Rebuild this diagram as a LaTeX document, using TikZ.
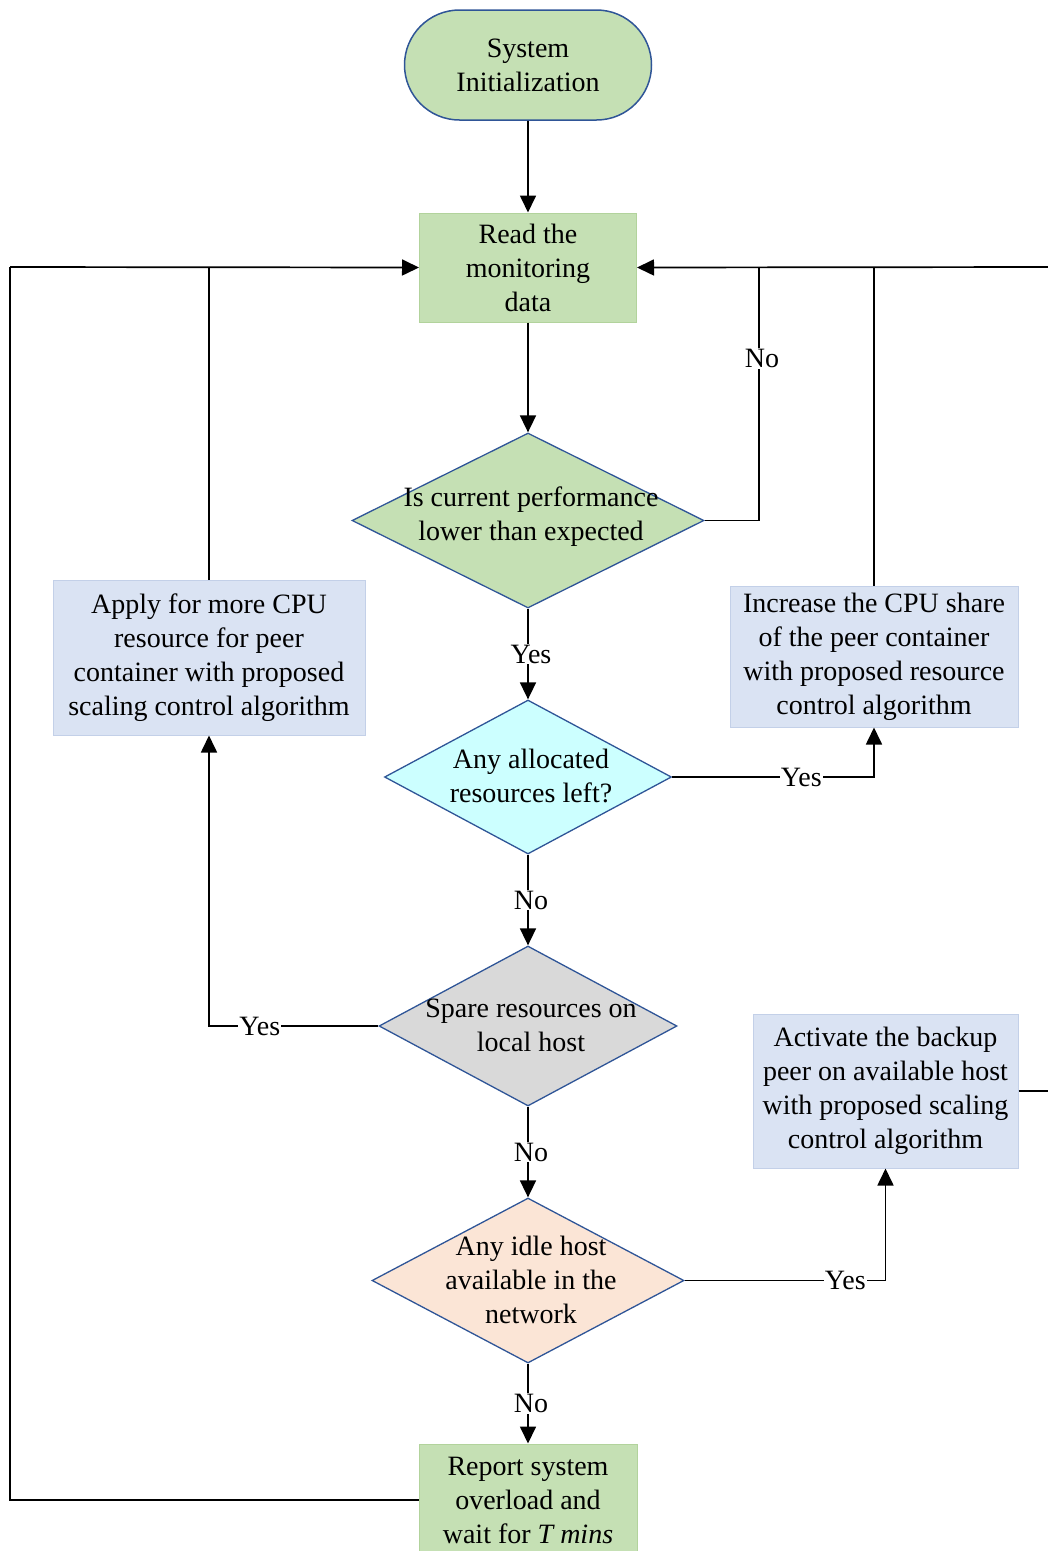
\documentclass[tikz,border=0pt]{standalone}
\usepackage{fontspec}
\setmainfont{Liberation Serif}
\usetikzlibrary{shapes.geometric,shapes.misc,arrows.meta}

\definecolor{leaf}{HTML}{C5E0B4}
\definecolor{leafline}{HTML}{B2D39C}
\definecolor{navy}{HTML}{2F5597}
\definecolor{sky}{HTML}{DAE3F3}
\definecolor{skyline}{HTML}{C3D0E8}
\definecolor{aqua}{HTML}{CCFFFF}
\definecolor{stone}{HTML}{D9D9D9}
\definecolor{peach}{HTML}{FBE5D6}

\tikzset{
  txt/.style={font=\fontsize{28}{34}\selectfont, align=center, inner sep=0pt},
  terminal/.style={rounded rectangle, draw=navy, line width=1.5pt, fill=leaf,
    minimum width=247pt, minimum height=110pt, txt},
  greenbox/.style={rectangle, draw=leafline, line width=1pt, fill=leaf, txt},
  bluebox/.style={rectangle, draw=skyline, line width=1pt, fill=sky, txt},
  decision/.style={diamond, draw=navy, line width=1.3pt, inner sep=0pt},
  wire/.style={line width=1.7pt, draw=black},
  arrow/.style={wire, -{Triangle[length=17pt,width=16pt]}},
  lbl/.style={fill=white, inner sep=1pt, font=\fontsize{28}{34}\selectfont}
}

\begin{document}
\begin{tikzpicture}[x=1pt, y=-1pt]
\useasboundingbox (0,0) rectangle (1048,1551);

% process blocks
\node[terminal] (init) at (528,65) {System\\Initialization};
\node[greenbox, minimum width=217pt, minimum height=109pt] (read) at (528,267.5) {Read the\\monitoring\\data};

\node[decision, fill=leaf, minimum width=352pt, minimum height=175pt] (d1) at (528,520.5) {};
\node[txt] (d1t) at (531,517) {Is current performance\\lower than expected};

\node[decision, fill=aqua, minimum width=287pt, minimum height=154pt] (d2) at (528,777) {};
\node[txt] (d2t) at (531,776) {Any allocated\\resources left?};

\node[decision, fill=stone, minimum width=298pt, minimum height=160pt] (d3) at (528,1026) {};
\node[txt] (d3t) at (531,1025) {Spare resources on\\local host};

\node[decision, fill=peach, minimum width=312pt, minimum height=165pt] (d4) at (528,1280.5) {};
\node[txt] (d4t) at (531,1280) {Any idle host\\available in the\\network};

\node[greenbox, minimum width=218pt, minimum height=112pt] (rep) at (528,1500) {Report system\\overload and\\wait for \textit{T mins}};

\node[bluebox, minimum width=312pt, minimum height=155pt] (app) at (209,657.5) {Apply for more CPU\\resource for peer\\container with proposed\\scaling control algorithm};
\node[bluebox, minimum width=288pt, minimum height=141pt] (inc) at (874,656.5) {Increase the CPU share\\of the peer container\\with proposed resource\\control algorithm};
\node[bluebox, minimum width=265pt, minimum height=154pt] (act) at (885.5,1091) {Activate the backup\\peer on available host\\with proposed scaling\\control algorithm};

% junction points of the feedback loops (the right one lies just past the edge)
\coordinate (ljoin) at (10,267);
\coordinate (rjoin) at (1050,267);
\coordinate (nojoin) at (759,267);

% main chain
\draw[arrow] (init) -- (read);
\draw[arrow] (read) -- (d1);
\draw[arrow] (d1.south) -- node[lbl, xshift=3pt]{Yes} (d2.north);
\draw[arrow] (d2.south) -- node[lbl, xshift=3pt]{No} (d3.north);
\draw[arrow] (d3.south) -- node[lbl, xshift=3pt]{No} (d4.north);
\draw[arrow] (d4.south) -- node[lbl, xshift=3pt]{No} (rep.north);

% branches to the action blocks
\draw[arrow] (d2.east) -| node[lbl, pos=0.32]{Yes} (inc.south);
\draw[arrow] (d3.west) -| node[lbl, pos=0.35]{Yes} (app.south);
\draw[arrow] (d4.east) -| node[lbl, pos=0.40]{Yes} (act.south);

% feedback to the monitoring step (right side)
\draw[wire] (d1.east) -| node[lbl, pos=0.82, xshift=3pt]{No} (nojoin);
\draw[wire] (inc.north) -- (inc.north |- read.east);
\draw[wire] (act.east) -| (rjoin);
\draw[arrow] (rjoin) -- (read.east);

% feedback to the monitoring step (left side)
\draw[wire] (app.north) -- (app.north |- read.west);
\draw[wire] (rep.west) -| (ljoin);
\draw[arrow] (ljoin) -- (read.west);
\end{tikzpicture}
\end{document}
